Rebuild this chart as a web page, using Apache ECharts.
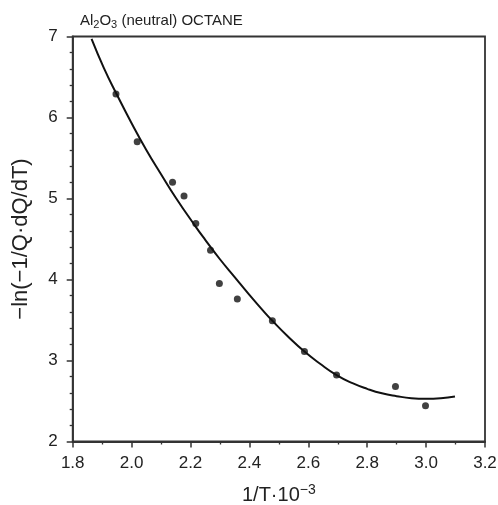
<!DOCTYPE html>
<html>
<head>
<meta charset="utf-8">
<script src="https://cdn.jsdelivr.net/npm/echarts@6/dist/echarts.min.js"></script>
<style>
  html, body { margin: 0; padding: 0; background: #fff; }
  #chart { width: 498px; height: 505px; }
</style>
</head>
<body>
<div id="chart"></div>
<script>
// measured points (1/T*10^-3, -ln(-1/Q dQ/dT))
const pointX = [1.947, 2.019, 2.139, 2.178, 2.218, 2.268, 2.298, 2.359, 2.478, 2.587, 2.696, 2.896, 2.998];
const pointY = [6.29, 5.70, 5.20, 5.03, 4.69, 4.36, 3.95, 3.76, 3.49, 3.11, 2.82, 2.68, 2.44];

// fitted curve
const curveX = [1.864, 1.906, 1.949, 2.00, 2.05, 2.10, 2.15, 2.218, 2.25, 2.30, 2.35, 2.40, 2.45, 2.478,
  2.53, 2.587, 2.64, 2.696, 2.75, 2.80, 2.85, 2.90, 2.95, 3.00, 3.05, 3.098];
const curveY = [6.97, 6.61, 6.29, 5.93, 5.60, 5.30, 5.01, 4.65, 4.49, 4.25, 4.03, 3.81, 3.60, 3.49,
  3.30, 3.11, 2.96, 2.82, 2.72, 2.65, 2.595, 2.56, 2.535, 2.528, 2.535, 2.555];

const xTicks = ['1.8', '2.0', '2.2', '2.4', '2.6', '2.8', '3.0', '3.2'];

const chart = echarts.init(document.getElementById('chart'));
const font = 'Liberation Sans, Arial, sans-serif';
const axisColor = '#333';
const textColor = '#222';

const option = {
  animation: false,
  backgroundColor: '#fff',
  textStyle: { fontFamily: font },
  title: {
    text: 'Al{sub|2}O{sub|3} (neutral) OCTANE',
    left: 75,
    top: 6,
    textStyle: {
      fontSize: 15,
      fontWeight: 'normal',
      color: textColor,
      fontFamily: font,
      rich: {
        sub: { fontSize: 11, padding: [8, 0, 0, 0], color: textColor, fontFamily: font }
      }
    }
  },
  grid: {
    left: 72.7,
    right: 13,
    top: 36.5,
    bottom: 63.5,
    outerBoundsMode: 'none',
    containLabel: false,
    show: true,
    borderColor: axisColor,
    borderWidth: 1.8
  },
  xAxis: {
    type: 'value',
    min: 1.8,
    max: 3.2,
    interval: 0.2,
    name: '1/T·10{sup|−3}',
    nameLocation: 'middle',
    nameGap: 42,
    nameTextStyle: {
      fontSize: 20,
      color: textColor,
      fontFamily: font,
      rich: {
        sup: { fontSize: 14, padding: [0, 0, 10, 0], color: textColor, fontFamily: font }
      }
    },
    axisLine: { lineStyle: { color: axisColor, width: 1.8 } },
    axisTick: { inside: false, length: 6, lineStyle: { color: axisColor, width: 1.5 } },
    minorTick: { show: true, splitNumber: 2, length: 3, lineStyle: { color: axisColor, width: 1.3 } },
    splitLine: { show: false },
    axisLabel: {
      fontSize: 17,
      color: textColor,
      margin: 13,
      formatter: (v) => xTicks[Math.round((v - 1.8) / 0.2)]
    }
  },
  yAxis: {
    type: 'value',
    min: 2,
    max: 7,
    interval: 1,
    name: '−ln(−1/Q·dQ/dT)',
    nameLocation: 'middle',
    nameGap: 41,
    nameTextStyle: { fontSize: 22, color: textColor, fontFamily: font },
    axisLine: { lineStyle: { color: axisColor, width: 1.8 } },
    axisTick: { inside: false, length: 6, lineStyle: { color: axisColor, width: 1.5 } },
    minorTick: { show: true, splitNumber: 5, length: 3, lineStyle: { color: axisColor, width: 1.3 } },
    splitLine: { show: false },
    axisLabel: { fontSize: 17, color: textColor, margin: 15 }
  },
  series: [
    {
      type: 'line',
      data: curveX.map((x, i) => [x, curveY[i]]),
      smooth: 0.5,
      showSymbol: false,
      lineStyle: { color: '#111', width: 2 },
      z: 2
    },
    {
      type: 'scatter',
      data: pointX.map((x, i) => [x, pointY[i]]),
      symbol: 'circle',
      symbolSize: 7,
      itemStyle: { color: '#111' },
      z: 3
    }
  ]
};

chart.setOption(option);
</script>
</body>
</html>
